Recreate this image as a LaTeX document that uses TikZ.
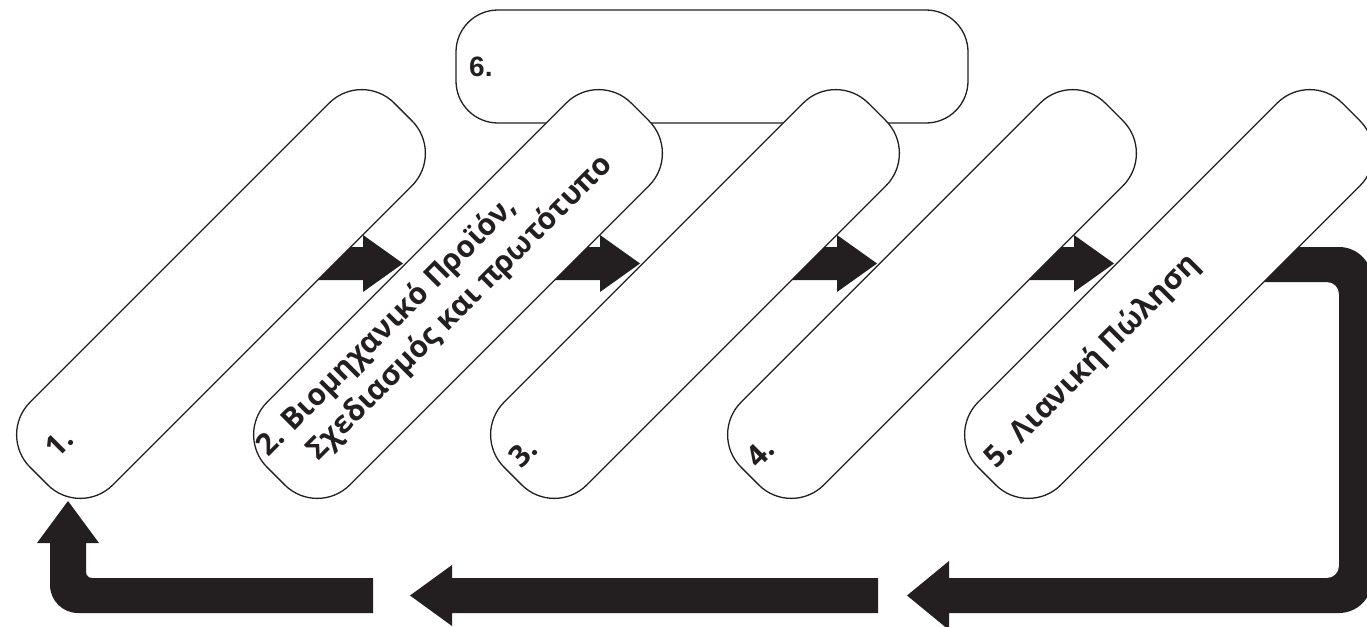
\documentclass[tikz,border=0pt]{standalone}
\usepackage{fontspec}
\newfontfamily\grk{Open Sans}
\newfontfamily\lsans{Liberation Sans}
\definecolor{ink}{HTML}{231F20}
\begin{document}
\begin{tikzpicture}[x=1pt,y=-1pt,
  slant/.style={draw=ink, line width=1.3pt, fill=white, rounded corners=46pt,
    minimum width=515pt, minimum height=117pt, inner sep=0pt, rotate=45},
  topbox/.style={draw=ink, line width=1.3pt, fill=white, rounded corners=42pt,
    minimum width=512pt, minimum height=113pt, inner sep=0pt},
  lbl/.style={rotate=45, anchor=base west, inner sep=0pt, text=ink,
    font=\grk\bfseries\fontsize{30}{36}\selectfont},
  blk/.style={fill=ink, draw=none}]
\useasboundingbox (0,0) rectangle (1367,626);
% top box 6
\node[topbox] (b6) at (712,66.5) {};
\node[anchor=base west, inner sep=0pt, text=ink, font=\lsans\bfseries\fontsize{28}{32}\selectfont] (t6) at (469,76) {6.};
% small arrows between boxes
\foreach \s [count=\i] in {0,237,474,711} {
  \fill[blk] (300+\s,247) -- (363+\s,247) -- (363+\s,235) -- (403+\s,263.5)
    -- (363+\s,292) -- (363+\s,280) -- (300+\s,280) -- cycle;
}
% return arrow, right piece
\fill[blk] (1240,247) [rounded corners=33pt] -- (1372,247) -- (1372,613)
  [sharp corners] -- (949,613) -- (949,630) -- (907,595.5) -- (949,561) -- (949,578)
  [rounded corners=12pt] -- (1339,578) -- (1339,282) [sharp corners] -- (1240,282) -- cycle;
% middle piece
\fill[blk] (878,578) -- (452,578) -- (452,565) -- (410,595.5) -- (452,626) -- (452,613) -- (878,613) -- cycle;
% left piece
\fill[blk] (373,578) [rounded corners=6pt] -- (86,578) [sharp corners] -- (86,543) -- (99,543)
  -- (68,501) -- (37,543) -- (50,543) [rounded corners=28pt] -- (50,613) [sharp corners] -- (373,613) -- cycle;
% slanted boxes
\node[slant] (b1) at (221,294) {};
\node[slant] (b2) at (458,294) {};
\node[slant] (b3) at (695,294) {};
\node[slant] (b4) at (932,294) {};
\node[slant] (b5) at (1169,294) {};
% labels
\node[lbl] (t1) at (57,460) {1.};
\node[lbl] (t2a) at (268,458) {2. Βιομηχανικό Προϊόν,};
\node[lbl] (t2b) at (318,462) {Σχεδιασμός και πρωτότυπο};
\node[lbl] (t3) at (521,470) {3.};
\node[lbl] (t4) at (758,470) {4.};
\node[lbl] (t5) at (996,470) {5. Λιανική Πώληση};
\end{tikzpicture}
\end{document}
